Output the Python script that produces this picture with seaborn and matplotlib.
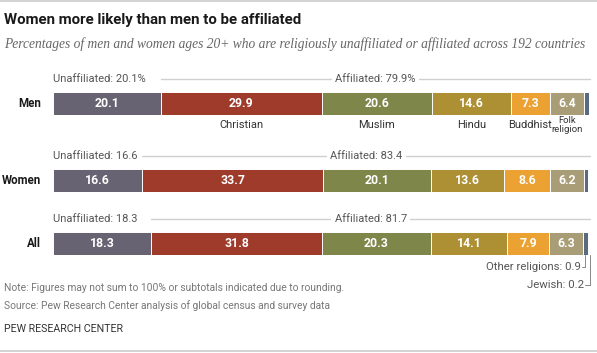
import matplotlib
matplotlib.use("Agg")
import matplotlib.pyplot as plt
import seaborn as sns
import pandas as pd

# Datos (porcentajes)
grupos = ["Men", "Women", "All"]
religiones = ["Unaffiliated", "Christian", "Muslim", "Hindu", "Buddhist",
              "Folk religion", "Other religions", "Jewish"]
men = [20.1, 29.9, 20.6, 14.6, 7.3, 6.4, 0.9, 0.2]
women = [16.6, 33.7, 20.1, 13.6, 8.6, 6.2, 0.9, 0.2]
todos = [18.3, 31.8, 20.3, 14.1, 7.9, 6.3, 0.9, 0.2]
unaf_txt = ["Unaffiliated: 20.1%", "Unaffiliated: 16.6", "Unaffiliated: 18.3"]
afil_txt = ["Affiliated: 79.9%", "Affiliated: 83.4", "Affiliated: 81.7"]
etiquetas_men = ["", "Christian", "Muslim", "Hindu", "Buddhist", "Folk\nreligion"]

colores = ["#676372", "#9e3b2b", "#7e864a", "#ad8f34", "#eba232",
           "#a89d76", "#5b6a80", "#9dc9e3"]

df = pd.DataFrame({"Men": men, "Women": women, "All": todos}, index=religiones)

sns.set_style("white")
fuente = ["Roboto", "DejaVu Sans"]
plt.rcParams["font.family"] = fuente

W, H = 597, 353
fig = plt.figure(figsize=(W / 100, H / 100), dpi=100)


def fx(px):
    return px / W


def fy(py):
    return 1 - py / H


# lineas grises arriba y abajo
fig.add_artist(plt.Line2D([0, 1], [fy(1), fy(1)], color="#cccccc", lw=1.2))
fig.add_artist(plt.Line2D([0, 1], [fy(351), fy(351)], color="#cccccc", lw=1.2))

fig.text(fx(4), fy(20), "Women more likely than men to be affiliated",
         fontsize=10.8, fontweight="bold", color="#1a1a1a", va="center")
fig.text(fx(4), fy(44),
         "Percentages of men and women ages 20+ who are religiously unaffiliated or affiliated across 192 countries",
         fontsize=9.75, style="italic", family=["Liberation Serif", "DejaVu Serif"],
         color="#666666", va="center")

# posicion vertical (px) de la parte de arriba de cada barra
top_px = [92, 169, 232]
alto = 23
x0, x1 = 53, 590

for i, g in enumerate(grupos):
    ax = fig.add_axes([fx(x0), fy(top_px[i] + alto), fx(x1) - fx(x0), alto / H])
    vals = df[g].values
    acum = vals.cumsum()
    # barras apiladas: de la mas larga a la mas corta
    for j in range(len(vals) - 1, -1, -1):
        sns.barplot(x=[acum[j]], y=[g], orient="h", color=colores[j], width=1,
                    saturation=1, edgecolor="white", linewidth=0.7, ax=ax)
    ax.set_xlim(0, 100)
    ax.set_ylim(0.5, -0.5)
    ax.axis("off")

    inicio = acum - vals
    for j in range(6):
        ax.text(inicio[j] + vals[j] / 2, 0, f"{vals[j]:.1f}", ha="center",
                va="center", color="white", fontsize=8.8, fontweight="bold")

    fig.text(fx(41), fy(top_px[i] + alto / 2), g, ha="right", va="center",
             fontsize=8.3, fontweight="bold", color="#1a1a1a")

    # etiquetas de afiliacion encima
    y_lab = 1 + 13 / alto
    ax.text(0, y_lab, unaf_txt[i], transform=ax.get_xaxis_transform(),
            ha="left", va="center", fontsize=8, color="#555555")
    ax.plot([vals[0], 100], [y_lab, y_lab], transform=ax.get_xaxis_transform(),
            color="#d0d0d0", lw=1, clip_on=False)
    ax.text(vals[0] + (100 - vals[0]) / 2, y_lab, afil_txt[i],
            transform=ax.get_xaxis_transform(), ha="center", va="center",
            fontsize=8, color="#555555",
            bbox=dict(facecolor="white", edgecolor="none", pad=2.5))

    if g == "Men":
        for j in range(1, 6):
            if j == 5:
                ax.text(inicio[j] + vals[j] / 2, -0.5 + 1.05, etiquetas_men[j],
                        ha="center", va="top", fontsize=6.8, color="#333333",
                        linespacing=1.0)
            else:
                ax.text(inicio[j] + vals[j] / 2, -0.5 + 1.2, etiquetas_men[j],
                        ha="center", va="top", fontsize=8, color="#333333")

    if g == "All":
        tr = ax.get_xaxis_transform()
        xo = inicio[6] + vals[6] / 2
        xj = inicio[7] + vals[7] / 2 + 0.35
        yo = -12 / alto
        yj = -30 / alto
        ax.plot([xo, xo, xo - 0.6], [0, yo, yo], transform=tr, color="#888888",
                lw=0.7, clip_on=False)
        ax.plot([xj, xj, xj - 0.9], [0, yj, yj], transform=tr, color="#888888",
                lw=0.7, clip_on=False)
        ax.text(xo - 0.8, yo, f"Other religions: {vals[6]:.1f}", transform=tr,
                ha="right", va="center", fontsize=8.2, color="#555555")
        ax.text(xj - 1.1, yj, f"Jewish: {vals[7]:.1f}", transform=tr,
                ha="right", va="center", fontsize=8.2, color="#555555")

fig.text(fx(4), fy(288), "Note: Figures may not sum to 100% or subtotals indicated due to rounding.",
         fontsize=7.35, color="#777777", va="center")
fig.text(fx(4), fy(306), "Source: Pew Research Center analysis of global census and survey data",
         fontsize=7.35, color="#777777", va="center")
fig.text(fx(4), fy(329), "PEW RESEARCH CENTER", fontsize=7.7, color="#333333",
         va="center")

fig.savefig("out.png", dpi=100)
